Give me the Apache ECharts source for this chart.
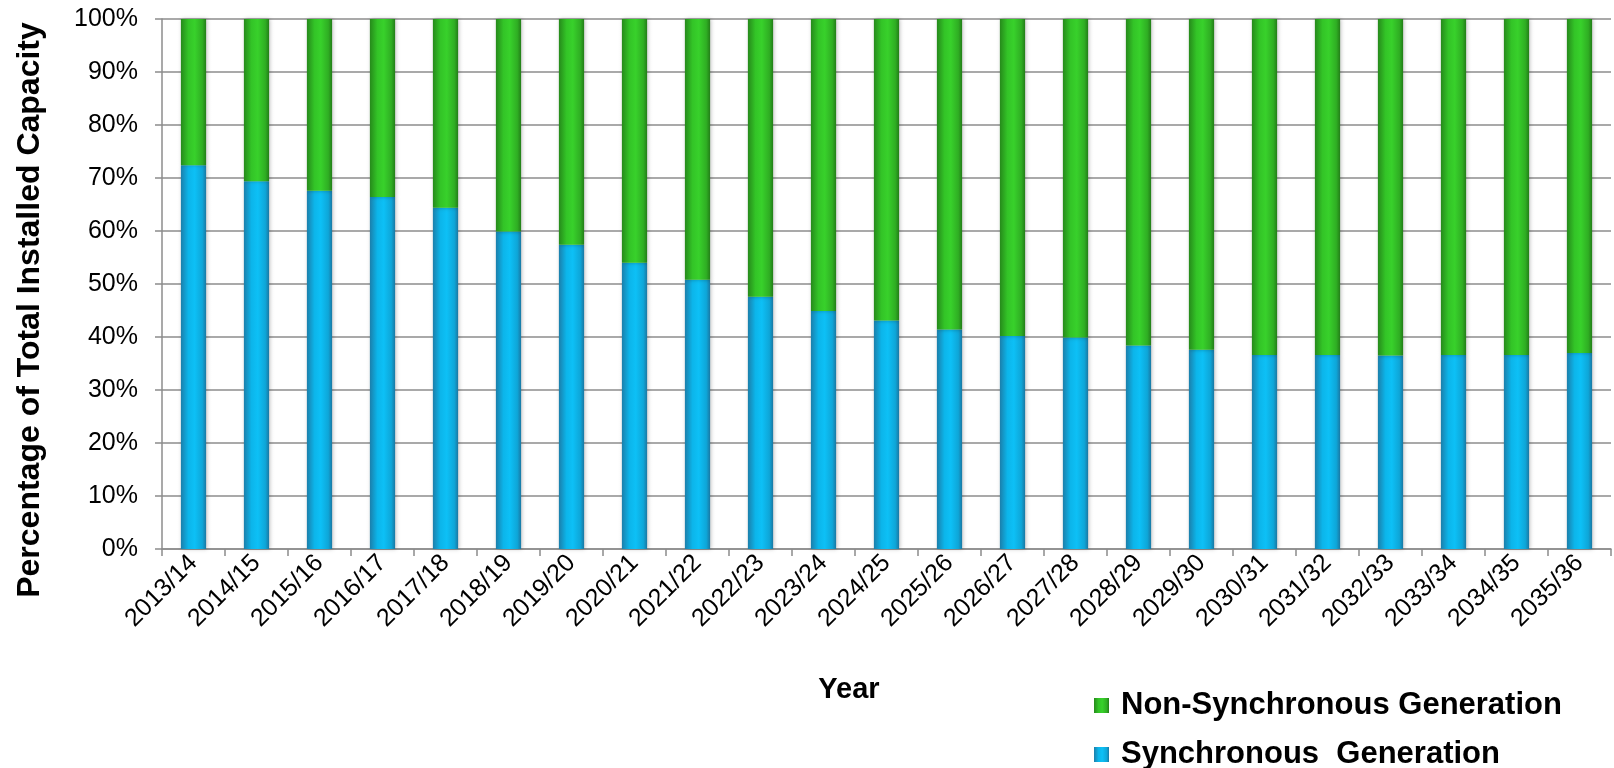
<!DOCTYPE html>
<html>
<head>
<meta charset="utf-8">
<script src="https://cdn.jsdelivr.net/npm/echarts@6/dist/echarts.min.js"></script>
<style>
html,body{margin:0;padding:0;background:#fff;}
#chart{width:1614px;height:768px;}
</style>
</head>
<body>
<div id="chart"></div>
<script>
const years = ['2013/14','2014/15','2015/16','2016/17','2017/18','2018/19','2019/20','2020/21','2021/22','2022/23','2023/24','2024/25','2025/26','2026/27','2027/28','2028/29','2029/30','2030/31','2031/32','2032/33','2033/34','2034/35','2035/36'];
const synchronous = [72.4,69.4,67.6,66.4,64.4,59.9,57.4,54.0,50.8,47.6,44.9,43.1,41.4,40.2,39.9,38.4,37.6,36.6,36.6,36.5,36.6,36.6,37.0];
const nonSynchronous = [27.6,30.6,32.4,33.6,35.6,40.1,42.6,46.0,49.2,52.4,55.1,56.9,58.6,59.8,60.1,61.6,62.4,63.4,63.4,63.5,63.4,63.4,63.0];
const yTicks = [0,10,20,30,40,50,60,70,80,90,100];

const FONT = '"Liberation Sans", Arial, sans-serif';
const chart = echarts.init(document.getElementById('chart'), null, {renderer:'canvas'});

const blueGrad = new echarts.graphic.LinearGradient(0,0,1,0,[
  {offset:0, color:'#1b7fab'},
  {offset:0.3, color:'#0cb5ea'},
  {offset:0.55, color:'#0dc0f6'},
  {offset:0.85, color:'#0ea6d8'},
  {offset:1, color:'#1a78a3'}
]);
const greenGrad = new echarts.graphic.LinearGradient(0,0,1,0,[
  {offset:0, color:'#268a1b'},
  {offset:0.3, color:'#33c427'},
  {offset:0.55, color:'#38d12b'},
  {offset:0.85, color:'#2fae23'},
  {offset:1, color:'#237e18'}
]);

chart.setOption({
  backgroundColor:'#fff',
  animation:false,
  grid:{left:162, right:3, top:19, bottom:219, containLabel:false},
  legend:{
    orient:'vertical',
    left:1089, top:685, height:83,
    itemWidth:15, itemHeight:15, itemGap:18,
    icon:'rect',
    data:['Non-Synchronous Generation','Synchronous  Generation'],
    textStyle:{fontFamily:FONT, fontSize:31, lineHeight:30, fontWeight:'bold', color:'#000', padding:[0,0,0,7]}
  },
  xAxis:{
    type:'category',
    data:years,
    boundaryGap:true,
    name:'Year',
    nameLocation:'middle',
    nameGap:126,
    nameTextStyle:{fontFamily:FONT, fontSize:29, fontWeight:'bold', color:'#000', padding:[0,75,0,0]},
    axisLine:{lineStyle:{color:'#8c8c8c', width:1.5}},
    axisTick:{show:true, alignWithLabel:false, length:7, lineStyle:{color:'#8c8c8c', width:1.5}},
    axisLabel:{rotate:45, margin:10, fontFamily:FONT, fontSize:25, color:'#000', interval:0}
  },
  yAxis:{
    type:'value',
    min:0, max:100, interval:10,
    name:'Percentage of Total Installed Capacity',
    nameLocation:'middle',
    nameGap:116,
    nameTextStyle:{fontFamily:FONT, fontSize:32, fontWeight:'bold', color:'#000', padding:[0,52,0,0]},
    axisLine:{show:true, lineStyle:{color:'#8c8c8c', width:1.5}},
    axisTick:{show:true, length:7, lineStyle:{color:'#8c8c8c', width:1.5}},
    splitLine:{show:true, lineStyle:{color:'#8c8c8c', width:1.5}},
    axisLabel:{margin:24, fontFamily:FONT, fontSize:25, color:'#000', formatter:function(v){return yTicks.indexOf(v)>=0 ? v+'%' : '';}}
  },
  series:[
    {
      name:'Synchronous  Generation',
      type:'bar', stack:'total', barWidth:'40%',
      data:synchronous,
      itemStyle:{color:blueGrad, shadowBlur:4, shadowColor:'rgba(0,0,0,0.25)', shadowOffsetX:1}
    },
    {
      name:'Non-Synchronous Generation',
      type:'bar', stack:'total', barWidth:'40%',
      data:nonSynchronous,
      itemStyle:{color:greenGrad, shadowBlur:4, shadowColor:'rgba(0,0,0,0.25)', shadowOffsetX:1}
    }
  ]
});
</script>
</body>
</html>
